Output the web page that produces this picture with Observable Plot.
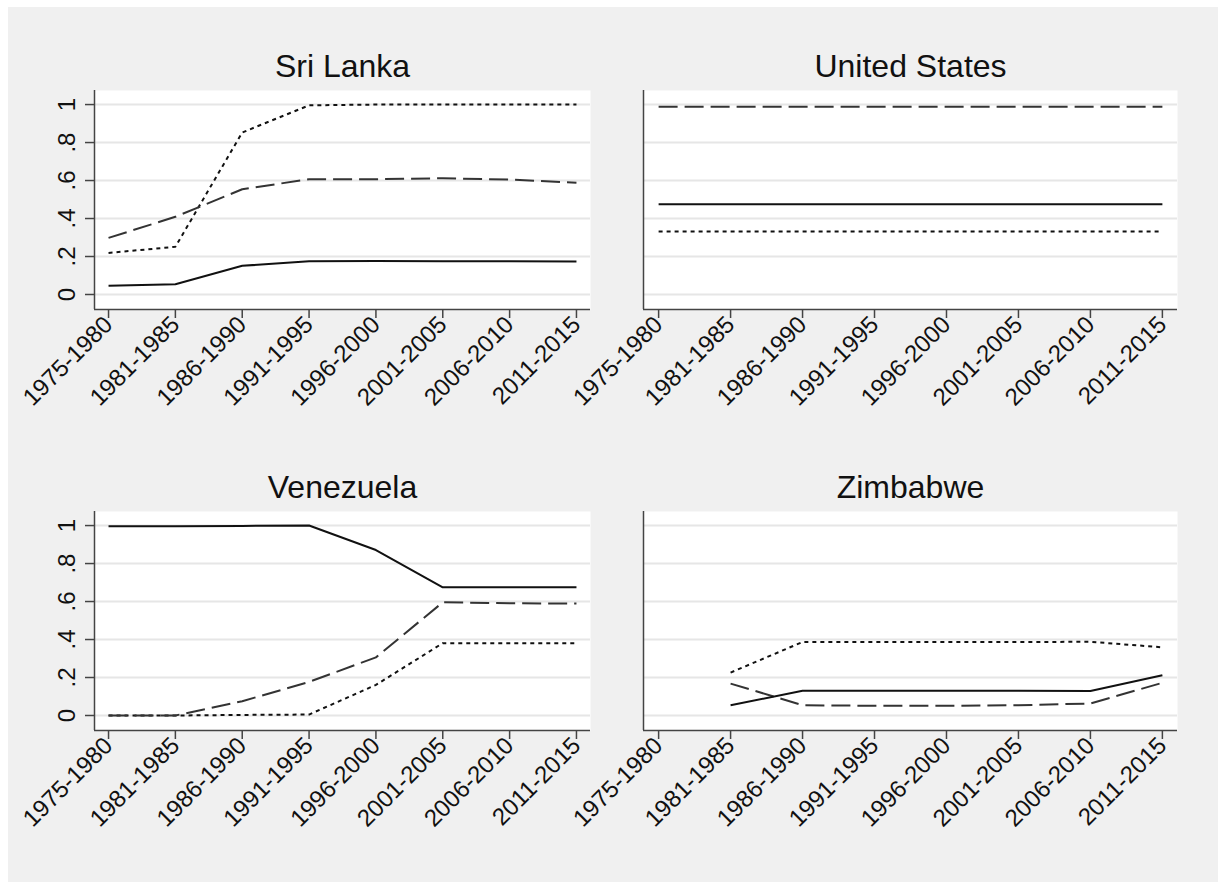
<!DOCTYPE html>
<html>
<head>
<meta charset="utf-8">
<script src="https://cdn.jsdelivr.net/npm/d3@7"></script>
<script src="https://cdn.jsdelivr.net/npm/@observablehq/plot@0.6"></script>
<style>
  html, body { margin: 0; padding: 0; background: #ffffff; }
  #wrap { position: relative; width: 1222px; height: 882px; background: #ffffff; overflow: hidden; }
  #bg { position: absolute; left: 8px; top: 7px; width: 1210px; height: 875px; background: #f0f0f0; }
  .panel { position: absolute; }
  .panel svg { overflow: visible; background: transparent; }
</style>
</head>
<body>
<div id="wrap"><div id="bg"></div></div>
<script>
// ---- data ----
const periods = ["1975-1980","1981-1985","1986-1990","1991-1995","1996-2000","2001-2005","2006-2010","2011-2015"];
const yTicks = [0, 0.2, 0.4, 0.6, 0.8, 1];
const yTickLabels = ["0", ".2", ".4", ".6", ".8", "1"];
const countries = ["Sri Lanka", "United States", "Venezuela", "Zimbabwe"];

const sriLankaSolid  = [0.046, 0.054, 0.151, 0.175, 0.177, 0.175, 0.175, 0.174];
const sriLankaDashed = [0.298, 0.409, 0.554, 0.607, 0.607, 0.612, 0.605, 0.588];
const sriLankaDotted = [0.219, 0.251, 0.853, 0.996, 1.000, 1.000, 1.000, 1.000];

const usSolid  = [0.475, 0.475, 0.475, 0.475, 0.475, 0.475, 0.475, 0.475];
const usDashed = [0.988, 0.988, 0.988, 0.988, 0.988, 0.988, 0.988, 0.988];
const usDotted = [0.332, 0.332, 0.332, 0.332, 0.332, 0.332, 0.332, 0.332];

const venSolid  = [0.997, 0.997, 0.998, 1.000, 0.871, 0.675, 0.675, 0.675];
const venDashed = [0.000, 0.000, 0.075, 0.177, 0.306, 0.596, 0.591, 0.589];
const venDotted = [0.000, 0.000, 0.003, 0.005, 0.161, 0.381, 0.381, 0.381];

const zimSolid  = [null, 0.054, 0.130, 0.130, 0.130, 0.130, 0.129, 0.212];
const zimDashed = [null, 0.168, 0.054, 0.051, 0.051, 0.054, 0.063, 0.172];
const zimDotted = [null, 0.226, 0.387, 0.387, 0.387, 0.387, 0.388, 0.359];

const seriesByCountry = {
  "Sri Lanka":     {solid: sriLankaSolid, dashed: sriLankaDashed, dotted: sriLankaDotted},
  "United States": {solid: usSolid,       dashed: usDashed,       dotted: usDotted},
  "Venezuela":     {solid: venSolid,      dashed: venDashed,      dotted: venDotted},
  "Zimbabwe":      {solid: zimSolid,      dashed: zimDashed,      dotted: zimDotted}
};

// ---- styles ----
const FONT = "'Liberation Sans', Arial, Helvetica, sans-serif";
const styles = {
  dotted: {stroke: "#111", dash: "4,4", width: 2},
  dashed: {stroke: "#333", dash: "19,7", width: 2},
  solid:  {stroke: "#111", dash: null, width: 2}
};
const xDomain = [-0.21, 7.21];
const yDomain = [-0.079, 1.074];

function panel(country, col, row) {
  const s = seriesByCountry[country];
  const left = col === 0;
  const marks = [
    Plot.frame({fill: "white", stroke: null}),
    Plot.gridY(yTicks, {stroke: "#e6e6e6", strokeOpacity: 1, strokeWidth: 2}),
    Plot.ruleY([yDomain[0]], {stroke: "#444", strokeWidth: 1.5}),
    Plot.ruleX([xDomain[0]], {stroke: "#444", strokeWidth: 1.5}),
    Plot.axisX(d3.range(periods.length), {
      tickSize: 9, tickRotate: -45, tickPadding: 2, fontSize: 24, stroke: "#444", strokeWidth: 1.5,
      fill: "#111", label: null, tickFormat: (i) => periods[i]
    })
  ];
  if (left) {
    marks.push(Plot.axisY(yTicks, {
      tickSize: 9, tickRotate: -90, tickPadding: 11, fontSize: 24, stroke: "#444", strokeWidth: 1.5,
      fill: "#111", label: null, tickFormat: (v) => yTickLabels[yTicks.indexOf(v)]
    }));
  }
  for (const key of ["dotted", "dashed", "solid"]) {
    const vals = s[key];
    const data = vals.map((v, i) => ({i, v}));
    const st = styles[key];
    marks.push(Plot.line(data, {
      x: "i", y: "v", stroke: st.stroke, strokeWidth: st.width,
      strokeDasharray: st.dash || undefined, strokeLinejoin: "round", strokeLinecap: "butt"
    }));
  }
  marks.push(Plot.text([country], {
    frameAnchor: "top", dy: -14, lineAnchor: "bottom", fontSize: 32, fill: "#111", text: (d) => d
  }));
  const chart = Plot.plot({
    width: 611, height: 441,
    marginLeft: left ? 94 : 32, marginRight: left ? 21 : 45,
    marginTop: 90, marginBottom: 132,
    style: {fontFamily: FONT, fontSize: "24px", background: "transparent", overflow: "visible"},
    x: {type: "linear", domain: xDomain, axis: null, label: null},
    y: {type: "linear", domain: yDomain, axis: null, label: null},
    marks
  });
  const div = document.createElement("div");
  div.className = "panel";
  div.style.left = (col === 0 ? 0 : 611) + "px";
  div.style.top = (row === 0 ? 0 : 421) + "px";
  div.appendChild(chart);
  document.getElementById("wrap").appendChild(div);
}

panel("Sri Lanka", 0, 0);
panel("United States", 1, 0);
panel("Venezuela", 0, 1);
panel("Zimbabwe", 1, 1);
</script>
</body>
</html>
